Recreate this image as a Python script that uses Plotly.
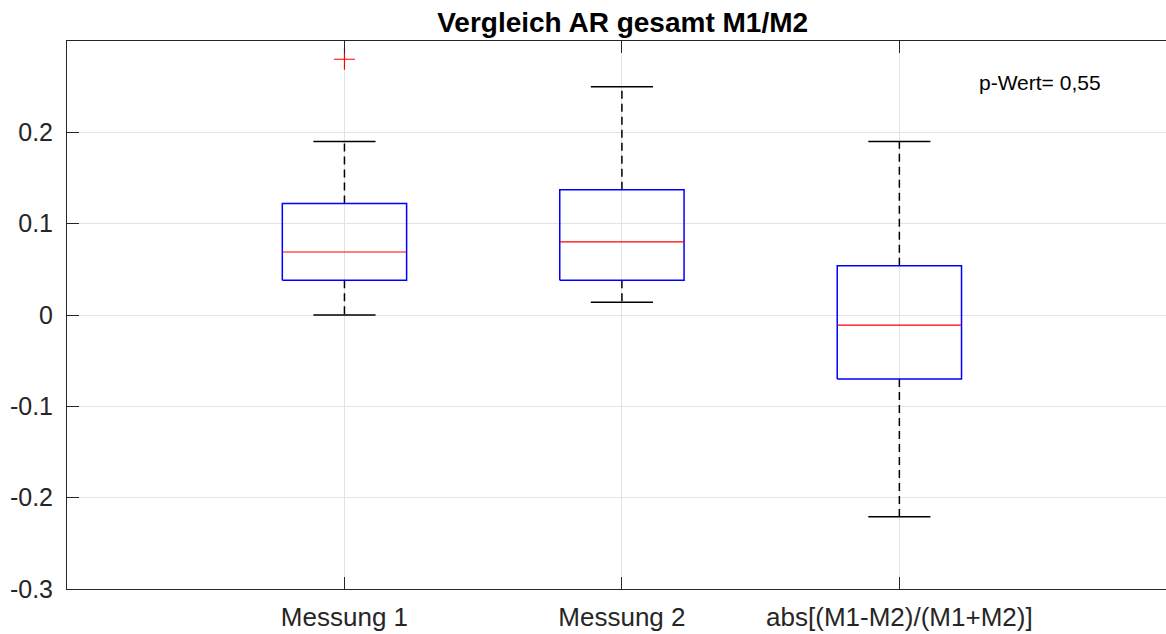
import plotly.graph_objects as go

# Box statistics per group
categories = ["Messung 1", "Messung 2", "abs[(M1-M2)/(M1+M2)]"]
positions = [1, 2, 3]
q1 = [0.038, 0.038, -0.070]
median = [0.069, 0.080, -0.011]
q3 = [0.122, 0.137, 0.054]
lower_whisker = [0.0, 0.014, -0.221]
upper_whisker = [0.19, 0.25, 0.19]
outlier_group = [1]
outlier_value = [0.28]

y_ticks = [-0.3, -0.2, -0.1, 0, 0.1, 0.2]
y_ticktext = ["-0.3", "-0.2", "-0.1", "0", "0.1", "0.2"]
p_text = "p-Wert= 0,55"

box_half = 0.224
cap_half = 0.112
axis_color = "#262626"
font_family = "Liberation Sans, Arial, sans-serif"

box_x, box_y = [], []
med_x, med_y = [], []
wh_x, wh_y = [], []
cap_x, cap_y = [], []
for p, a, m, b, lo, hi in zip(positions, q1, median, q3, lower_whisker, upper_whisker):
    box_x += [p - box_half, p + box_half, p + box_half, p - box_half, p - box_half, None]
    box_y += [a, a, b, b, a, None]
    med_x += [p - box_half, p + box_half, None]
    med_y += [m, m, None]
    wh_x += [p, p, None, p, p, None]
    wh_y += [b, hi, None, a, lo, None]
    cap_x += [p - cap_half, p + cap_half, None, p - cap_half, p + cap_half, None]
    cap_y += [hi, hi, None, lo, lo, None]

fig = go.Figure()
fig.add_trace(go.Scatter(x=wh_x, y=wh_y, mode="lines",
                         line=dict(color="black", width=1.5, dash="8px,5px"),
                         hoverinfo="skip", showlegend=False))
fig.add_trace(go.Scatter(x=cap_x, y=cap_y, mode="lines",
                         line=dict(color="black", width=1.5),
                         hoverinfo="skip", showlegend=False))
fig.add_trace(go.Scatter(x=box_x, y=box_y, mode="lines",
                         line=dict(color="#0000ff", width=1.5),
                         hoverinfo="skip", showlegend=False))
fig.add_trace(go.Scatter(x=med_x, y=med_y, mode="lines",
                         line=dict(color="#ff0000", width=1.2),
                         hoverinfo="skip", showlegend=False))
fig.add_trace(go.Scatter(x=outlier_group, y=outlier_value, mode="markers",
                         marker=dict(symbol="cross-thin", size=15,
                                     line=dict(color="#ff0000", width=1.2)),
                         hoverinfo="skip", showlegend=False))

fig.add_annotation(x=3.28, y=0.2548, xref="x", yref="y", text=p_text,
                   showarrow=False, xanchor="left", yanchor="middle",
                   font=dict(family=font_family, size=21, color="black"))

fig.update_layout(
    width=1166, height=634,
    margin=dict(l=67, r=0, t=41, b=45),
    paper_bgcolor="white", plot_bgcolor="white",
    title=dict(text="<b>Vergleich AR gesamt M1/M2</b>", x=0.534, xanchor="center",
               y=0.965, yanchor="middle",
               font=dict(family=font_family, size=28, color="black")),
    xaxis=dict(range=[0, 3.961], tickvals=positions, ticktext=categories,
               showgrid=True, gridcolor="#e3e3e3", gridwidth=1,
               showline=True, linecolor=axis_color, linewidth=1, mirror="ticks",
               ticks="inside", ticklen=12, tickcolor=axis_color, tickwidth=1,
               tickfont=dict(family=font_family, size=26, color=axis_color),
               ticklabelstandoff=5, zeroline=False),
    yaxis=dict(range=[-0.3, 0.3], tickvals=y_ticks, ticktext=y_ticktext,
               showgrid=True, gridcolor="#e3e3e3", gridwidth=1,
               showline=True, linecolor=axis_color, linewidth=1,
               ticks="inside", ticklen=12, tickcolor=axis_color, tickwidth=1,
               tickfont=dict(family=font_family, size=25, color=axis_color),
               ticklabelstandoff=8, zeroline=False),
)

fig.write_html("out.html")
